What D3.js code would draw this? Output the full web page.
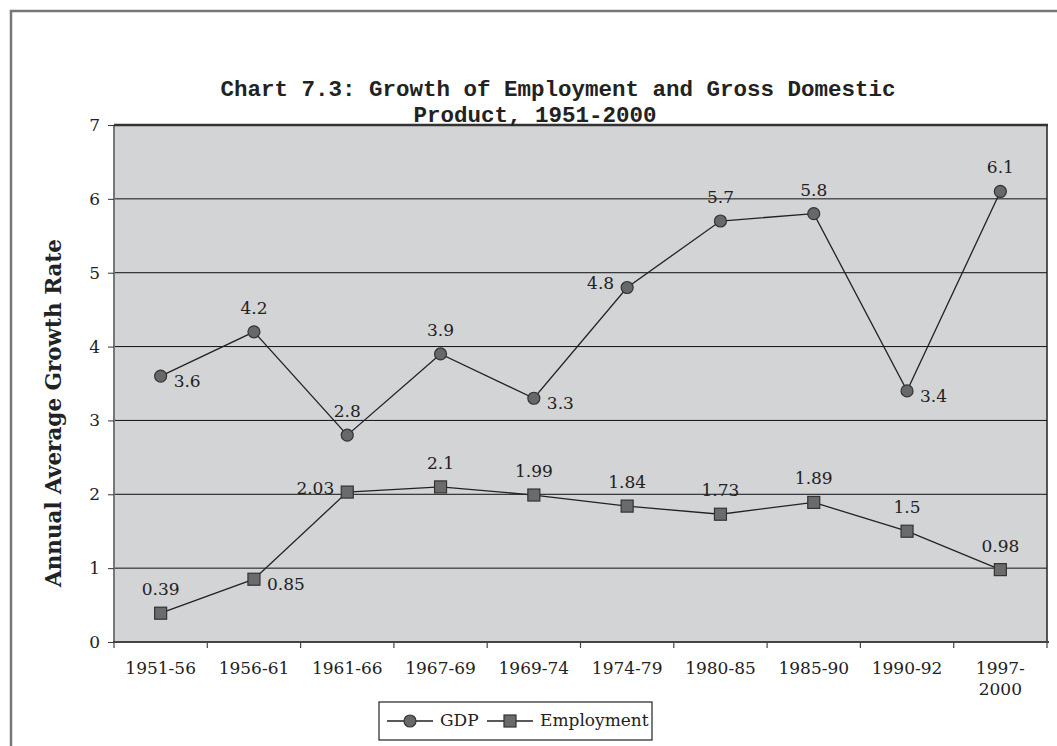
<!DOCTYPE html>
<html>
<head>
<meta charset="utf-8">
<script src="https://cdn.jsdelivr.net/npm/d3@7"></script>
<style>
  body { margin: 0; background: #fff; }
  svg { display: block; }
  .tick text { font-family: "DejaVu Serif", serif; font-size: 17px; fill: #222; }
</style>
</head>
<body>
<svg id="chart" width="1057" height="746"></svg>
<script>
const periods = ["1951-56", "1956-61", "1961-66", "1967-69", "1969-74", "1974-79", "1980-85", "1985-90", "1990-92", "1997-2000"]
const gdp = [3.6, 4.2, 2.8, 3.9, 3.3, 4.8, 5.7, 5.8, 3.4, 6.1]
const employment = [0.39, 0.85, 2.03, 2.1, 1.99, 1.84, 1.73, 1.89, 1.5, 0.98]
const yTicks = [0, 1, 2, 3, 4, 5, 6, 7]
// where each value label sits relative to its marker
const gdpLabelSide = ["right", "above", "above", "above", "right", "left", "above", "above", "right", "above"]
const empLabelSide = ["above", "right", "left", "above", "above", "above", "above", "above", "above", "above"]

const svg = d3.select("#chart")
const margin = { left: 114, right: 1047, top: 125, bottom: 642 }

// outer frame (only top/left visible)
svg.append("path")
    .attr("d", "M11,746 L11,11 L1057,11")
    .attr("fill", "none")
    .attr("stroke", "#777")
    .attr("stroke-width", 2.5)

const x = d3.scaleBand()
    .domain(periods)
    .range([margin.left, margin.right])

const y = d3.scaleLinear()
    .domain([0, 7])
    .range([margin.bottom, margin.top])

// plot background
svg.append("rect")
    .attr("x", margin.left)
    .attr("y", margin.top)
    .attr("width", margin.right - margin.left)
    .attr("height", margin.bottom - margin.top)
    .attr("fill", "#d3d4d6")

// gridlines
svg.append("g")
    .selectAll("line")
    .data(yTicks.filter(d => d > 0 && d < 7))
    .enter().append("line")
    .attr("x1", margin.left)
    .attr("x2", margin.right)
    .attr("y1", d => y(d))
    .attr("y2", d => y(d))
    .attr("stroke", "#111")
    .attr("stroke-width", 1)

// plot borders
svg.append("line").attr("x1", margin.left).attr("x2", margin.left)
    .attr("y1", margin.top).attr("y2", margin.bottom)
    .attr("stroke", "#777").attr("stroke-width", 2)
svg.append("line").attr("x1", margin.right).attr("x2", margin.right)
    .attr("y1", margin.top).attr("y2", margin.bottom)
    .attr("stroke", "#222").attr("stroke-width", 1.5)
svg.append("line").attr("x1", margin.left).attr("x2", margin.right + 1)
    .attr("y1", margin.top).attr("y2", margin.top)
    .attr("stroke", "#333").attr("stroke-width", 2.5)

// y axis
const yAxis = d3.axisLeft(y)
    .tickValues(yTicks)
    .tickSize(6)
    .tickPadding(8)
    .tickFormat(d3.format("d"))

svg.append("g")
    .attr("transform", "translate(" + margin.left + ",0)")
    .call(yAxis)
    .call(g => g.select(".domain").remove())
    .call(g => g.selectAll(".tick line").attr("stroke", "#333"))

// x axis: ticks at category boundaries
const xAxis = d3.axisBottom(x).tickSize(0).tickPadding(20)
const xg = svg.append("g")
    .attr("transform", "translate(0," + margin.bottom + ")")
    .call(xAxis)
xg.select(".domain").remove()
xg.selectAll(".tick text").each(function (d) {
    const t = d3.select(this)
    if (d.indexOf("-") == 4 && d.length > 7) {
        const parts = [d.slice(0, 5), d.slice(5)]
        t.text(null)
        parts.forEach((p, i) => t.append("tspan").attr("x", 0).attr("dy", i == 0 ? "0.71em" : "1.25em").text(p))
        t.attr("dy", null)
    }
})
svg.append("line").attr("x1", margin.left - 1).attr("x2", margin.right + 2)
    .attr("y1", margin.bottom).attr("y2", margin.bottom)
    .attr("stroke", "#444").attr("stroke-width", 2)
svg.append("g")
    .selectAll("line")
    .data(d3.range(periods.length + 1))
    .enter().append("line")
    .attr("x1", i => margin.left + i * x.step())
    .attr("x2", i => margin.left + i * x.step())
    .attr("y1", margin.bottom)
    .attr("y2", margin.bottom + 6)
    .attr("stroke", "#444")
    .attr("stroke-width", 1.2)

// y axis title
svg.append("text")
    .attr("transform", "translate(61,413) rotate(-90)")
    .attr("text-anchor", "middle")
    .style("font-family", "'DejaVu Serif', serif")
    .style("font-weight", "bold")
    .style("font-size", "21.5px")
    .style("fill", "#222")
    .text("Annual Average Growth Rate")

// title
const title = svg.append("g")
    .style("font-family", "'Courier New', 'Liberation Mono', monospace")
    .style("font-weight", "bold")
    .style("font-size", "22.5px")
    .style("fill", "#222")
title.append("text").attr("x", 558).attr("y", 96).attr("text-anchor", "middle")
    .text("Chart 7.3: Growth of Employment and Gross Domestic")
title.append("text").attr("x", 535).attr("y", 122).attr("text-anchor", "middle")
    .text("Product, 1951-2000")

const cx = (d, i) => x(periods[i]) + x.bandwidth() / 2
const line = d3.line().x(cx).y(d => y(d))

function drawSeries(values, sides, shape) {
    const g = svg.append("g")
    g.append("path")
        .datum(values)
        .attr("d", line)
        .attr("fill", "none")
        .attr("stroke", "#222")
        .attr("stroke-width", 1.3)

    if (shape == "circle") {
        g.selectAll("circle")
            .data(values)
            .enter().append("circle")
            .attr("cx", cx)
            .attr("cy", d => y(d))
            .attr("r", 6)
            .attr("fill", "#686868")
            .attr("stroke", "#333")
            .attr("stroke-width", 1.2)
    } else {
        g.selectAll("rect")
            .data(values)
            .enter().append("rect")
            .attr("x", (d, i) => cx(d, i) - 6)
            .attr("y", d => y(d) - 6)
            .attr("width", 12)
            .attr("height", 12)
            .attr("fill", "#6b6b6b")
            .attr("stroke", "#333")
            .attr("stroke-width", 1.2)
    }

    g.selectAll("text")
        .data(values)
        .enter().append("text")
        .style("font-family", "'DejaVu Serif', serif")
        .style("font-size", "17px")
        .style("fill", "#222")
        .attr("dominant-baseline", "central")
        .attr("text-anchor", (d, i) => sides[i] == "above" ? "middle" : sides[i] == "right" ? "start" : "end")
        .attr("x", (d, i) => cx(d, i) + (sides[i] == "right" ? 13 : sides[i] == "left" ? -13 : 0))
        .attr("y", (d, i) => y(d) + (sides[i] == "above" ? -24 : sides[i] == "right" ? 5 : -4))
        .text(d => d)
}

drawSeries(gdp, gdpLabelSide, "circle")
drawSeries(employment, empLabelSide, "square")

// legend
const legend = svg.append("g").attr("transform", "translate(379,702)")
legend.append("rect")
    .attr("width", 273).attr("height", 38)
    .attr("fill", "#fff").attr("stroke", "#222").attr("stroke-width", 1.2)
const items = [{ name: "GDP", shape: "circle", x0: 8, tx: 61 }, { name: "Employment", shape: "square", x0: 108, tx: 161 }]
items.forEach(it => {
    legend.append("line")
        .attr("x1", it.x0).attr("x2", it.x0 + 46)
        .attr("y1", 19).attr("y2", 19)
        .attr("stroke", "#222").attr("stroke-width", 1.3)
    if (it.shape == "circle") {
        legend.append("circle").attr("cx", it.x0 + 23).attr("cy", 19).attr("r", 6)
            .attr("fill", "#686868").attr("stroke", "#333").attr("stroke-width", 1.2)
    } else {
        legend.append("rect").attr("x", it.x0 + 17).attr("y", 13).attr("width", 12).attr("height", 12)
            .attr("fill", "#6b6b6b").attr("stroke", "#333").attr("stroke-width", 1.2)
    }
    legend.append("text")
        .attr("x", it.tx).attr("y", 18)
        .attr("dominant-baseline", "central")
        .style("font-family", "'DejaVu Serif', serif")
        .style("font-size", "17px")
        .style("fill", "#222")
        .text(it.name)
})
</script>
</body>
</html>
